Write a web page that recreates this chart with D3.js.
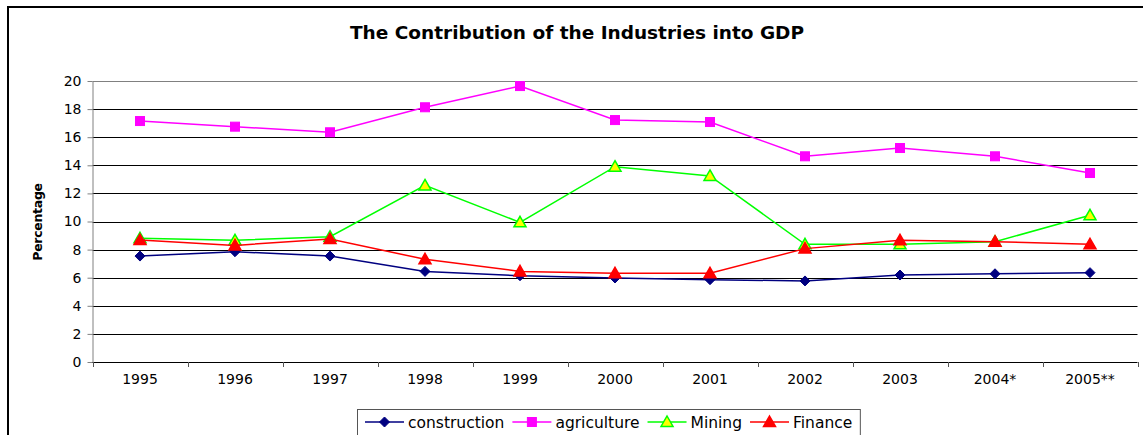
<!DOCTYPE html>
<html><head><meta charset="utf-8">
<script src="https://cdn.jsdelivr.net/npm/d3@7/dist/d3.min.js"></script>
<style>html,body{margin:0;padding:0;background:#fff;}svg{display:block;font-family:"DejaVu Sans",sans-serif;}</style>
</head><body>
<svg id="c" width="1143" height="435"></svg>
<script>
const years = ["1995","1996","1997","1998","1999","2000","2001","2002","2003","2004*","2005**"];
const construction = [7.54,7.85,7.54,6.45,6.14,5.98,5.86,5.77,6.19,6.28,6.36];
const agriculture = [17.15,16.75,16.35,18.13,19.64,17.22,17.08,14.64,15.23,14.64,13.45];
const mining = [8.80,8.66,8.92,12.57,9.94,13.9,13.24,8.38,8.38,8.56,10.44];
const finance = [8.68,8.3,8.75,7.31,6.45,6.31,6.31,8.07,8.66,8.56,8.38];
const yTicks = [0,2,4,6,8,10,12,14,16,18,20];
const seriesNames = ["construction","agriculture","Mining","Finance"];

const series = [
  {name:seriesNames[0], values:construction, color:"#000080", marker:"diamond", fill:"#000080"},
  {name:seriesNames[1], values:agriculture, color:"#FF00FF", marker:"square", fill:"#FF00FF"},
  {name:seriesNames[2], values:mining, color:"#00FF00", marker:"triangle", fill:"#FFFF00"},
  {name:seriesNames[3], values:finance, color:"#FF0000", marker:"triangle", fill:"#FF0000"}
];

const FONT = "DejaVu Sans, sans-serif";
const svg = d3.select("#c");
const L = 92.5, R = 1137.5, T = 81, B = 362;

// frame
svg.append("rect").attr("x",8).attr("y",7).attr("width",1160).attr("height",460)
  .attr("fill","none").attr("stroke","#000").attr("stroke-width",2);

const x = d3.scaleBand().domain(years).range([L,R]).padding(0);
const y = d3.scaleLinear().domain([0,20]).range([B,T]);

// gridlines
svg.append("g").selectAll("line").data(yTicks.filter(d=>d>0)).join("line")
  .attr("x1",L).attr("x2",R).attr("y1",d=>Math.round(y(d))+0.5).attr("y2",d=>Math.round(y(d))+0.5)
  .attr("stroke",d=>d===20?"#808080":"#000").attr("stroke-width",1);

// y axis
const yAxis = d3.axisLeft(y).tickValues(yTicks).tickSize(5).tickSizeOuter(0).tickPadding(6);
const gy = svg.append("g").attr("transform",`translate(${L},0)`).call(yAxis);
gy.attr("font-family",FONT).attr("font-size",14);
gy.select(".domain").attr("stroke","#808080");
gy.selectAll(".tick line").attr("stroke","#808080");
gy.selectAll("text").attr("fill","#000");

// x axis
const gx = svg.append("g").attr("transform",`translate(0,${B})`).call(d3.axisBottom(x).tickSize(0).tickPadding(12));
gx.attr("font-family",FONT).attr("font-size",14);
gx.select(".domain").attr("stroke","#000").attr("d",`M${L},0.5H${R}`);
gx.selectAll("text").attr("fill","#000");
svg.append("g").selectAll("line").data(d3.range(years.length+1)).join("line")
  .attr("x1",i=>Math.round(L+i*x.bandwidth())+0.5).attr("x2",i=>Math.round(L+i*x.bandwidth())+0.5)
  .attr("y1",B).attr("y2",B+5).attr("stroke","#555");

// title
svg.append("text").attr("x",577).attr("y",39).attr("text-anchor","middle").attr("font-family",FONT)
  .attr("font-size",18.5).attr("font-weight","bold").text("The Contribution of the Industries into GDP");

// y label
svg.append("text").attr("transform","translate(42,222) rotate(-90)").attr("text-anchor","middle").attr("font-family",FONT)
  .attr("font-size",12.5).attr("font-weight","bold").attr("letter-spacing",-0.3).text("Percentage");

function marker(g, type, cx, cy, fill, stroke){
  if(type==="diamond"){
    g.append("path").attr("d",`M${cx},${cy-5}L${cx+5},${cy}L${cx},${cy+5}L${cx-5},${cy}Z`).attr("fill",fill).attr("stroke",stroke);
  } else if(type==="square"){
    g.append("rect").attr("x",cx-4.5).attr("y",cy-4.5).attr("width",9).attr("height",9).attr("fill",fill).attr("stroke",stroke);
  } else {
    g.append("path").attr("d",`M${cx},${cy-6}L${cx+6},${cy+4.5}L${cx-6},${cy+4.5}Z`).attr("fill",fill).attr("stroke",stroke).attr("stroke-width",1.5);
  }
}

const line = d3.line().x((d,i)=>x(years[i])+x.bandwidth()/2).y(d=>y(d));
series.forEach(s=>{
  const g = svg.append("g");
  g.append("path").datum(s.values).attr("d",line).attr("fill","none").attr("stroke",s.color).attr("stroke-width",1.5);
  s.values.forEach((v,i)=>marker(g, s.marker, x(years[i])+x.bandwidth()/2, y(v), s.fill, s.color));
});

// legend
const lg = svg.append("g").attr("font-family",FONT);
const lbox = lg.append("rect").attr("x",357.5).attr("y",409.5).attr("width",500).attr("height",40)
  .attr("fill","#fff").attr("stroke","#555");
let lx = 365;
const ly = 422;
series.forEach(s=>{
  lg.append("line").attr("x1",lx).attr("x2",lx+39).attr("y1",ly).attr("y2",ly).attr("stroke",s.color).attr("stroke-width",1.5);
  marker(lg, s.marker, lx+19.5, ly, s.fill, s.color);
  const t = lg.append("text").attr("x",lx+43).attr("y",ly+5.5).attr("font-size",15.5).text(s.name);
  lx += 43 + t.node().getComputedTextLength() + 8;
});
lbox.attr("width", lx - 357.5);
</script>
</body></html>
